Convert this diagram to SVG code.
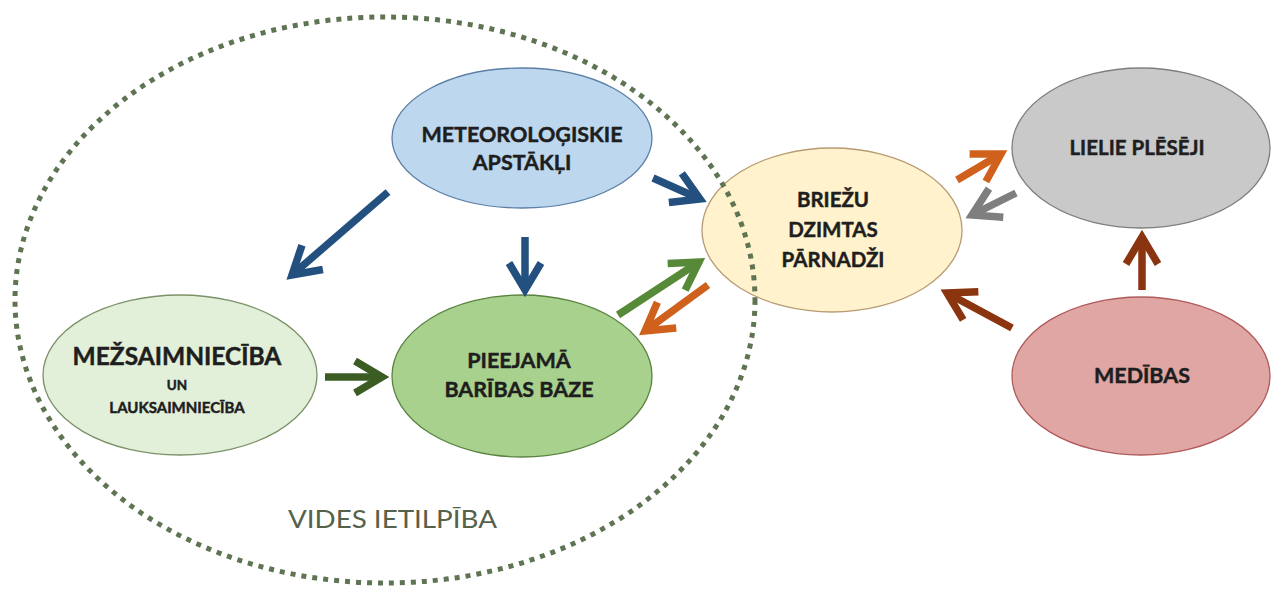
<svg xmlns="http://www.w3.org/2000/svg" width="1272" height="589" viewBox="0 0 1272 589">
<style>
.lbl{font-family:"Lato","Open Sans","Liberation Sans",sans-serif;font-weight:bold;fill:#1e1e1e;stroke:#1e1e1e;stroke-width:0.45;text-anchor:middle}
.node{stroke-width:1.3}
.arr{fill:none;stroke-width:7.5;stroke-linecap:butt}
.bound{fill:none;stroke:#5e7453;stroke-width:5;stroke-dasharray:5 6}
.cap{font-family:"Lato","Open Sans","Liberation Sans",sans-serif;font-size:25.5px;fill:#56614a}
</style>
<defs>
<marker id="hBlue" markerUnits="userSpaceOnUse" viewBox="-40 -30 60 60" markerWidth="60" markerHeight="60" refX="0" refY="0" orient="auto" overflow="visible"><path d="M-27,-16 L0,0 L-27,16" fill="none" stroke="#23507e" stroke-width="7.5"/></marker>
<marker id="hDGreen" markerUnits="userSpaceOnUse" viewBox="-40 -30 60 60" markerWidth="60" markerHeight="60" refX="0" refY="0" orient="auto" overflow="visible"><path d="M-27,-16 L0,0 L-27,16" fill="none" stroke="#3b5c23" stroke-width="7.5"/></marker>
<marker id="hGreen" markerUnits="userSpaceOnUse" viewBox="-40 -30 60 60" markerWidth="60" markerHeight="60" refX="0" refY="0" orient="auto" overflow="visible"><path d="M-27,-16 L0,0 L-27,16" fill="none" stroke="#578a38" stroke-width="7.5"/></marker>
<marker id="hOrange" markerUnits="userSpaceOnUse" viewBox="-40 -30 60 60" markerWidth="60" markerHeight="60" refX="0" refY="0" orient="auto" overflow="visible"><path d="M-27,-16 L0,0 L-27,16" fill="none" stroke="#d0611c" stroke-width="7.5"/></marker>
<marker id="hGray" markerUnits="userSpaceOnUse" viewBox="-40 -30 60 60" markerWidth="60" markerHeight="60" refX="0" refY="0" orient="auto" overflow="visible"><path d="M-27,-16 L0,0 L-27,16" fill="none" stroke="#7f7f7f" stroke-width="7.5"/></marker>
<marker id="hBrown" markerUnits="userSpaceOnUse" viewBox="-40 -30 60 60" markerWidth="60" markerHeight="60" refX="0" refY="0" orient="auto" overflow="visible"><path d="M-27,-16 L0,0 L-27,16" fill="none" stroke="#8a3510" stroke-width="7.5"/></marker>
</defs>
<rect width="1272" height="589" fill="#ffffff"/>

<g id="node-meteo">
<ellipse class="node" cx="522" cy="138" rx="130" ry="70" fill="#bdd7ee" stroke="#5b7fa6"/>
<text class="lbl" x="522" y="142" font-size="21.5">METEOROLOĢISKIE</text>
<text class="lbl" x="522" y="170" font-size="21.5">APSTĀKĻI</text>
</g>
<g id="node-mezsaimnieciba">
<ellipse class="node" cx="180" cy="375" rx="137" ry="80" fill="#e2efd9" stroke="#7c9168"/>
<text class="lbl" x="177" y="365" font-size="24.5">MEŽSAIMNIECĪBA</text>
<text class="lbl" x="177" y="390" font-size="13.5">UN</text>
<text class="lbl" x="177" y="413" font-size="15">LAUKSAIMNIECĪBA</text>
</g>
<g id="node-bariba">
<ellipse class="node" cx="522" cy="376" rx="130" ry="81" fill="#a9d18e" stroke="#5a8340"/>
<text class="lbl" x="519" y="368" font-size="21.5">PIEEJAMĀ</text>
<text class="lbl" x="519" y="397" font-size="21.5">BARĪBAS BĀZE</text>
</g>
<g id="node-briezu">
<ellipse class="node" cx="832" cy="230" rx="130" ry="82" fill="#fff2cc" stroke="#b79b73"/>
<text class="lbl" x="833" y="207" font-size="20.5">BRIEŽU</text>
<text class="lbl" x="833" y="237" font-size="20.5">DZIMTAS</text>
<text class="lbl" x="833" y="267" font-size="20.5">PĀRNADŽI</text>
</g>
<g id="node-plesei">
<ellipse class="node" cx="1141" cy="148" rx="129" ry="80" fill="#c9c9c9" stroke="#7f7f7f"/>
<text class="lbl" x="1137" y="155" font-size="20.5">LIELIE PLĒSĒJI</text>
</g>
<g id="node-medibas">
<ellipse class="node" cx="1141" cy="376" rx="129" ry="79" fill="#dfa6a4" stroke="#b05a5a"/>
<text class="lbl" x="1142" y="383" font-size="21.5">MEDĪBAS</text>
</g>

<g id="boundary">
<ellipse class="bound" cx="385" cy="300" rx="370" ry="283"/>
<text class="cap" x="288" y="528" textLength="209" lengthAdjust="spacingAndGlyphs">VIDES IETILPĪBA</text>
</g>

<g id="connectors">
<path class="arr" stroke="#23507e" marker-end="url(#hBlue)" d="M388,192 L292,275"/>
<path class="arr" stroke="#23507e" marker-end="url(#hBlue)" d="M525,237 L525,290"/>
<path class="arr" stroke="#23507e" marker-end="url(#hBlue)" d="M653,178 L700,199"/>
<path class="arr" stroke="#3b5c23" marker-end="url(#hDGreen)" d="M325,377 L382,377"/>
<path class="arr" stroke="#578a38" marker-end="url(#hGreen)" d="M618,315 L699,262"/>
<path class="arr" stroke="#d0611c" marker-end="url(#hOrange)" d="M708,285 L645,331"/>
<path class="arr" stroke="#d0611c" marker-end="url(#hOrange)" d="M957,180 L1001,154"/>
<path class="arr" stroke="#7f7f7f" marker-end="url(#hGray)" d="M1016,193 L972,215"/>
<path class="arr" stroke="#8a3510" marker-end="url(#hBrown)" d="M1012,328 L947,293"/>
<path class="arr" stroke="#8a3510" marker-end="url(#hBrown)" d="M1142,290 L1142,237"/>
</g>
</svg>
